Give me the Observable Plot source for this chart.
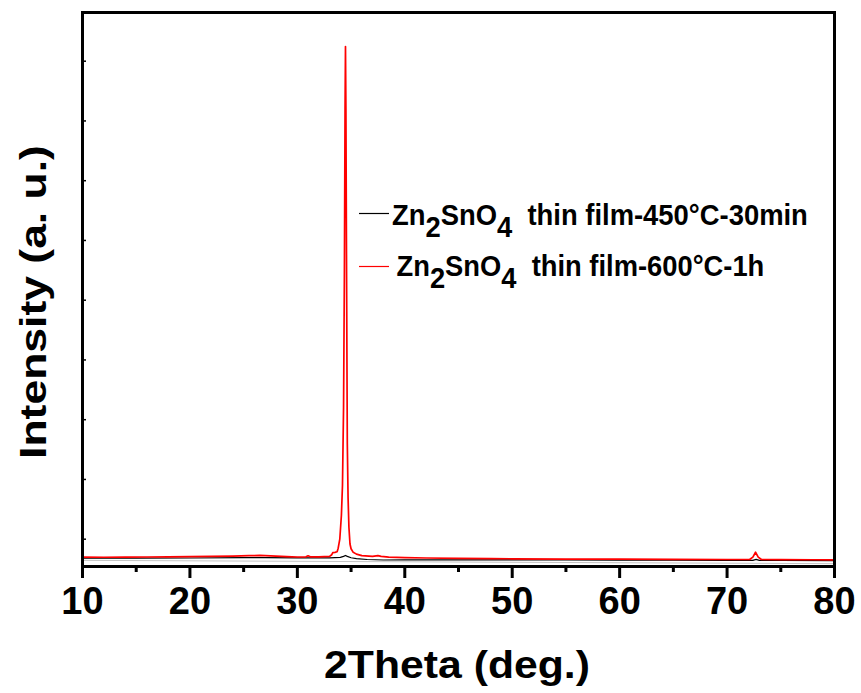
<!DOCTYPE html>
<html><head><meta charset="utf-8">
<script src="https://cdn.jsdelivr.net/npm/d3@7"></script>
<script src="https://cdn.jsdelivr.net/npm/@observablehq/plot@0.6"></script>
<style>body{margin:0;background:#fff}</style>
</head><body><div id="chart"></div>
<script>
// ---- data ----
const redTheta = [10,12,14,16,18,20,22,24,25.5,26.5,27.5,29,30,30.8,31.0,31.2,32,33.0,33.2,33.3,33.5,33.7,33.8,33.95,34.1,34.2,34.3,34.38,34.44,34.48,34.52,34.58,34.65,34.72,34.8,34.9,35.0,35.2,35.5,36.0,37.0,37.5,37.8,38.5,40,42,45,48,50,55,60,65,70,72.1,72.4,72.65,72.9,73.2,75,78,80];
const redIntensity = [700,698,700,702,705,708,712,718,724,728,722,708,702,705,722,705,705,712,740,775,780,790,850,1000,1400,1900,3200,5500,8200,9246,8200,5500,2600,1700,1200,920,840,780,750,725,712,725,712,700,692,685,678,675,672,668,665,662,660,660,700,782,700,660,658,656,655];
const blackTheta = [10,15,20,25,27,30,32,33,34,34.3,34.48,34.65,35,35.5,36.5,38,40,45,50,55,60,65,70,72.4,72.7,73.0,75,80];
const blackIntensity = [682,682,685,690,690,686,686,689,695,712,728,712,690,675,660,652,655,655,655,652,650,648,646,646,662,646,645,643];
const faintTheta = [10,80];
const faintIntensity = [646,590];
const xTicksMajor = [10,20,30,40,50,60,70,80];
const xTicksMinor = [15,25,35,45,55,65,75];
const yTicks = [1000,2000,3000,4000,5000,6000,7000,8000,9000];
const seriesNames = ["Zn2SnO4 thin film-450°C-30min","Zn2SnO4 thin film-600°C-1h"];
const seriesColors = ["#000000","#ff0000"];

const toRows = (xs, ys) => xs.map((t, i) => ({theta: t, intensity: ys[i]}));
const red = toRows(redTheta, redIntensity);
const black = toRows(blackTheta, blackIntensity);
const faint = toRows(faintTheta, faintIntensity);

const FONT = "'Liberation Sans', Arial, Helvetica, sans-serif";

const plot = Plot.plot({
  width: 861, height: 693,
  marginLeft: 82, marginRight: 27, marginTop: 12, marginBottom: 127,
  style: {fontFamily: FONT, background: "#fff", color: "#000"},
  x: {domain: [10, 80]},
  y: {domain: [543, 9815]},
  marks: [
    Plot.line(faint, {x: "theta", y: "intensity", stroke: "#c4c4c4", strokeWidth: 1}),
    Plot.line(black, {x: "theta", y: "intensity", stroke: seriesColors[0], strokeWidth: 1.2}),
    Plot.line(red, {x: "theta", y: "intensity", stroke: seriesColors[1], strokeWidth: 1.7}),
    Plot.axisX({ticks: xTicksMajor, tickSize: 12, tickPadding: 9, strokeWidth: 3, fontSize: 38, fontWeight: "bold", tickFormat: d => String(d), label: null}),
    Plot.axisX({ticks: xTicksMinor, tickSize: 6, strokeWidth: 3, tickFormat: () => "", label: null}),
    Plot.axisY({ticks: yTicks, tickSize: 4, dx: 4, strokeWidth: 1.5, tickFormat: () => "", label: null}),
    Plot.frame({strokeWidth: 3, stroke: "#000"})
  ]
});
document.getElementById("chart").appendChild(plot);

const svg = d3.select(plot);

function stretched(parent, parts, fontSize, targetWidth, anchor, subShift) {
  const text = parent.append("text")
    .attr("font-family", FONT).attr("font-weight", "bold")
    .attr("font-size", fontSize).attr("fill", "#000")
    .attr("text-anchor", anchor).style("white-space", "pre");
  let down = 0;
  parts.forEach(p => {
    const ts = text.append("tspan").text(p.t);
    if (p.sub && !down) { ts.attr("dy", subShift); down = 1; }
    else if (!p.sub && down) { ts.attr("dy", -subShift); down = 0; }
  });
  const w = text.node().getBBox().width;
  text.attr("transform", `scale(${targetWidth / w},1)`);
  return text;
}

// axis titles
const gx = svg.append("g").attr("transform", "translate(457,678)");
stretched(gx, [{t: "2Theta (deg.)"}], 38, 266, "middle", 0);
const gy = svg.append("g").attr("transform", "translate(46,302) rotate(-90)");
stretched(gy, [{t: "Intensity (a. u.)"}], 37, 314, "middle", 0);

// legend
const legendRows = [
  {parts: [{t: "Zn"}, {t: "2", sub: true}, {t: "SnO"}, {t: "4", sub: true}, {t: "  thin film-450°C-30min"}], lineY: 213.5, textX: 392, baseY: 225, width: 416},
  {parts: [{t: "Zn"}, {t: "2", sub: true}, {t: "SnO"}, {t: "4", sub: true}, {t: "  thin film-600°C-1h"}], lineY: 266.5, textX: 396.5, baseY: 275.5, width: 368}
];
legendRows.forEach((r, i) => {
  svg.append("line").attr("x1", 359).attr("x2", 389).attr("y1", r.lineY).attr("y2", r.lineY)
    .attr("stroke", seriesColors[i]).attr("stroke-width", 1.2);
  const g = svg.append("g").attr("transform", `translate(${r.textX},${r.baseY})`);
  stretched(g, r.parts, 29, r.width, "start", 12);
});
</script>
</body></html>
